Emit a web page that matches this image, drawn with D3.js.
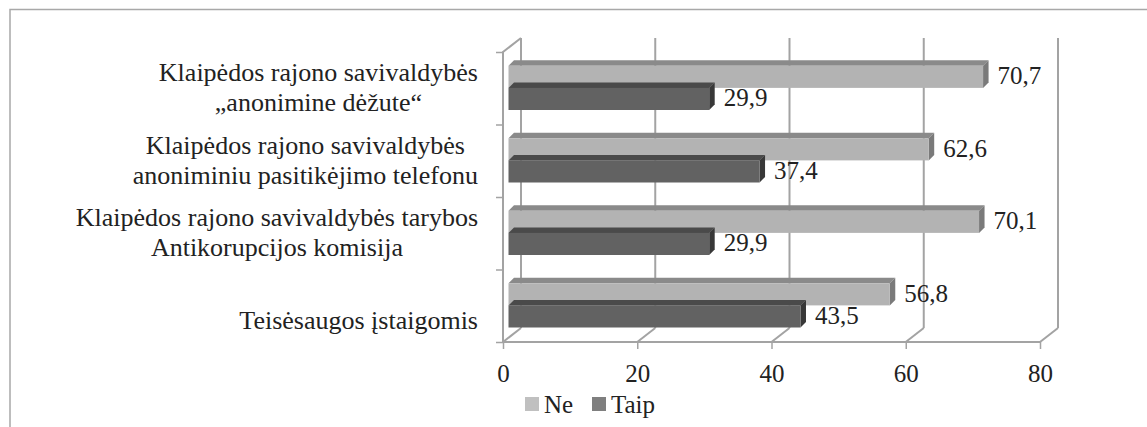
<!DOCTYPE html>
<html>
<head>
<meta charset="utf-8">
<script src="https://cdn.jsdelivr.net/npm/d3@7"></script>
<style>
  body { margin: 0; background: #fff; }
</style>
</head>
<body>
<svg id="chart" width="1147" height="427"></svg>
<script>
// data
var categories = [
  "Klaipėdos rajono savivaldybės\n„anonimine dėžute“",
  "Klaipėdos rajono savivaldybės\nanoniminiu pasitikėjimo telefonu",
  "Klaipėdos rajono savivaldybės tarybos\nAntikorupcijos komisija",
  "\nTeisėsaugos įstaigomis"
];
var series = ["Ne", "Taip"];
var neValues = [70.7, 62.6, 70.1, 56.8];
var taipValues = [29.9, 37.4, 29.9, 43.5];
var xTicks = [0, 20, 40, 60, 80];

// no serif face in the sandbox, so this falls back to the default sans
var FONT = "Liberation Serif, Tinos, Times New Roman, Times, serif";
var FSIZE = "25px";

var svg = d3.select("#chart");
var wallColor = "#a3a3a3";
var depth = { x: 18, y: -14 };   // back wall offset
var barDepth = { x: 5.5, y: -5.5 };
var barShift = 5.5;

var colors = {
  Ne:   { front: "#b3b3b3", top: "#8a8a8a", side: "#7a7a7a", legend: "#c0c0c0" },
  Taip: { front: "#626262", top: "#4a4a4a", side: "#383838", legend: "#7f7f7f" }
};

var x = d3.scaleLinear().domain([0, 80]).range([503, 1040]);
var y = d3.scaleBand().domain(categories).range([52, 342]);
var bw = y.bandwidth();
var ySub = d3.scaleBand().domain(series).range([bw * 0.19, bw * 0.8]);

// chart frame
svg.append("path")
  .attr("d", "M10,427 L10,9.5 L1147,9.5")
  .style("fill", "none").style("stroke", "#a8a8a8").style("stroke-width", 1.5);

var walls = svg.append("g")
  .style("stroke", wallColor).style("stroke-width", 2).style("fill", "none");

var y0 = y.range()[0], y1 = y.range()[1];

// back wall grid lines
walls.selectAll(".grid").data(xTicks).enter().append("line")
  .attr("x1", function (d) { return x(d) + depth.x; })
  .attr("x2", function (d) { return x(d) + depth.x; })
  .attr("y1", y0 + depth.y)
  .attr("y2", y1 + depth.y);

// floor diagonals
walls.selectAll(".floor").data(xTicks).enter().append("line")
  .attr("x1", function (d) { return x(d); })
  .attr("x2", function (d) { return x(d) + depth.x; })
  .attr("y1", y1)
  .attr("y2", y1 + depth.y);

// left wall
walls.append("path")
  .attr("d", "M" + x(0) + "," + y1 + " L" + x(0) + "," + y0 +
             " L" + (x(0) + depth.x) + "," + (y0 + depth.y));

// front axis
var xAxis = d3.axisBottom(x).tickValues(xTicks).tickSize(7).tickPadding(15);
var gx = svg.append("g").attr("transform", "translate(0," + y1 + ")").call(xAxis);
gx.attr("font-family", FONT).attr("font-size", 25);
gx.select(".domain").attr("d", "M" + x(0) + ",0H" + x(80))
  .style("stroke", wallColor).style("stroke-width", 2);
gx.selectAll(".tick line").style("stroke", wallColor).style("stroke-width", 1.5);
gx.selectAll(".tick text").style("font-family", FONT).style("font-size", FSIZE).style("fill", "#222");

// left axis ticks at band boundaries
var yEdge = d3.scaleLinear().domain([0, categories.length]).range([y0, y1]);
var gy = svg.append("g").attr("transform", "translate(" + x(0) + ",0)")
  .call(d3.axisLeft(yEdge).ticks(categories.length).tickSize(7).tickFormat(""));
gy.select(".domain").remove();
gy.selectAll(".tick line").style("stroke", wallColor).style("stroke-width", 1.5);

// bars
var rows = [];
categories.forEach(function (c, i) {
  rows.push({ cat: c, s: "Ne", v: neValues[i] });
  rows.push({ cat: c, s: "Taip", v: taipValues[i] });
});

var bars = svg.append("g");
rows.forEach(function (r) {
  var xl = x(0) + barShift, xr = x(r.v) + barShift;
  var yt = y(r.cat) + ySub(r.s), yb = yt + ySub.bandwidth();
  var g = bars.append("g");
  g.append("path")
    .attr("d", "M" + xl + "," + yt + "L" + (xl + barDepth.x) + "," + (yt + barDepth.y) +
               "L" + (xr + barDepth.x) + "," + (yt + barDepth.y) + "L" + xr + "," + yt + "Z")
    .style("fill", colors[r.s].top);
  g.append("path")
    .attr("d", "M" + xr + "," + yt + "L" + (xr + barDepth.x) + "," + (yt + barDepth.y) +
               "L" + (xr + barDepth.x) + "," + (yb + barDepth.y) + "L" + xr + "," + yb + "Z")
    .style("fill", colors[r.s].side);
  g.append("rect")
    .attr("x", xl).attr("y", yt)
    .attr("width", xr - xl).attr("height", yb - yt)
    .style("fill", colors[r.s].front);
  g.append("text")
    .attr("x", xr + barDepth.x + 9)
    .attr("y", (yt + yb) / 2 - 1)
    .attr("dominant-baseline", "central")
    .style("font-family", FONT).style("font-size", FSIZE).style("fill", "#222")
    .text(d3.format(".1f")(r.v).replace(".", ","));
});

// category labels, lines centred inside a right-aligned block
var labelRight = 478;
categories.forEach(function (c) {
  var lines = c.split("\n");
  var cy = y(c) + bw / 2;
  var t = svg.append("text")
    .style("font-family", FONT).style("font-size", "26px").style("fill", "#222")
    .attr("text-anchor", "middle");
  var spans = lines.map(function (ln, i) {
    return t.append("tspan")
      .attr("y", cy + (i - (lines.length - 1) / 2) * 30 + 8)
      .text(ln);
  });
  var w = d3.max(spans, function (s) { return s.node().getComputedTextLength(); });
  spans.forEach(function (s) { s.attr("x", labelRight - w / 2); });
});

// legend
var legend = svg.append("g").attr("transform", "translate(525,397)");
var legX = [0, 67];
series.forEach(function (s, i) {
  legend.append("rect").attr("x", legX[i]).attr("y", 0)
    .attr("width", 14).attr("height", 14).style("fill", colors[s].legend);
  legend.append("text").attr("x", legX[i] + 19).attr("y", 16)
    .style("font-family", FONT).style("font-size", FSIZE).style("fill", "#222")
    .text(s);
});
</script>
</body>
</html>
